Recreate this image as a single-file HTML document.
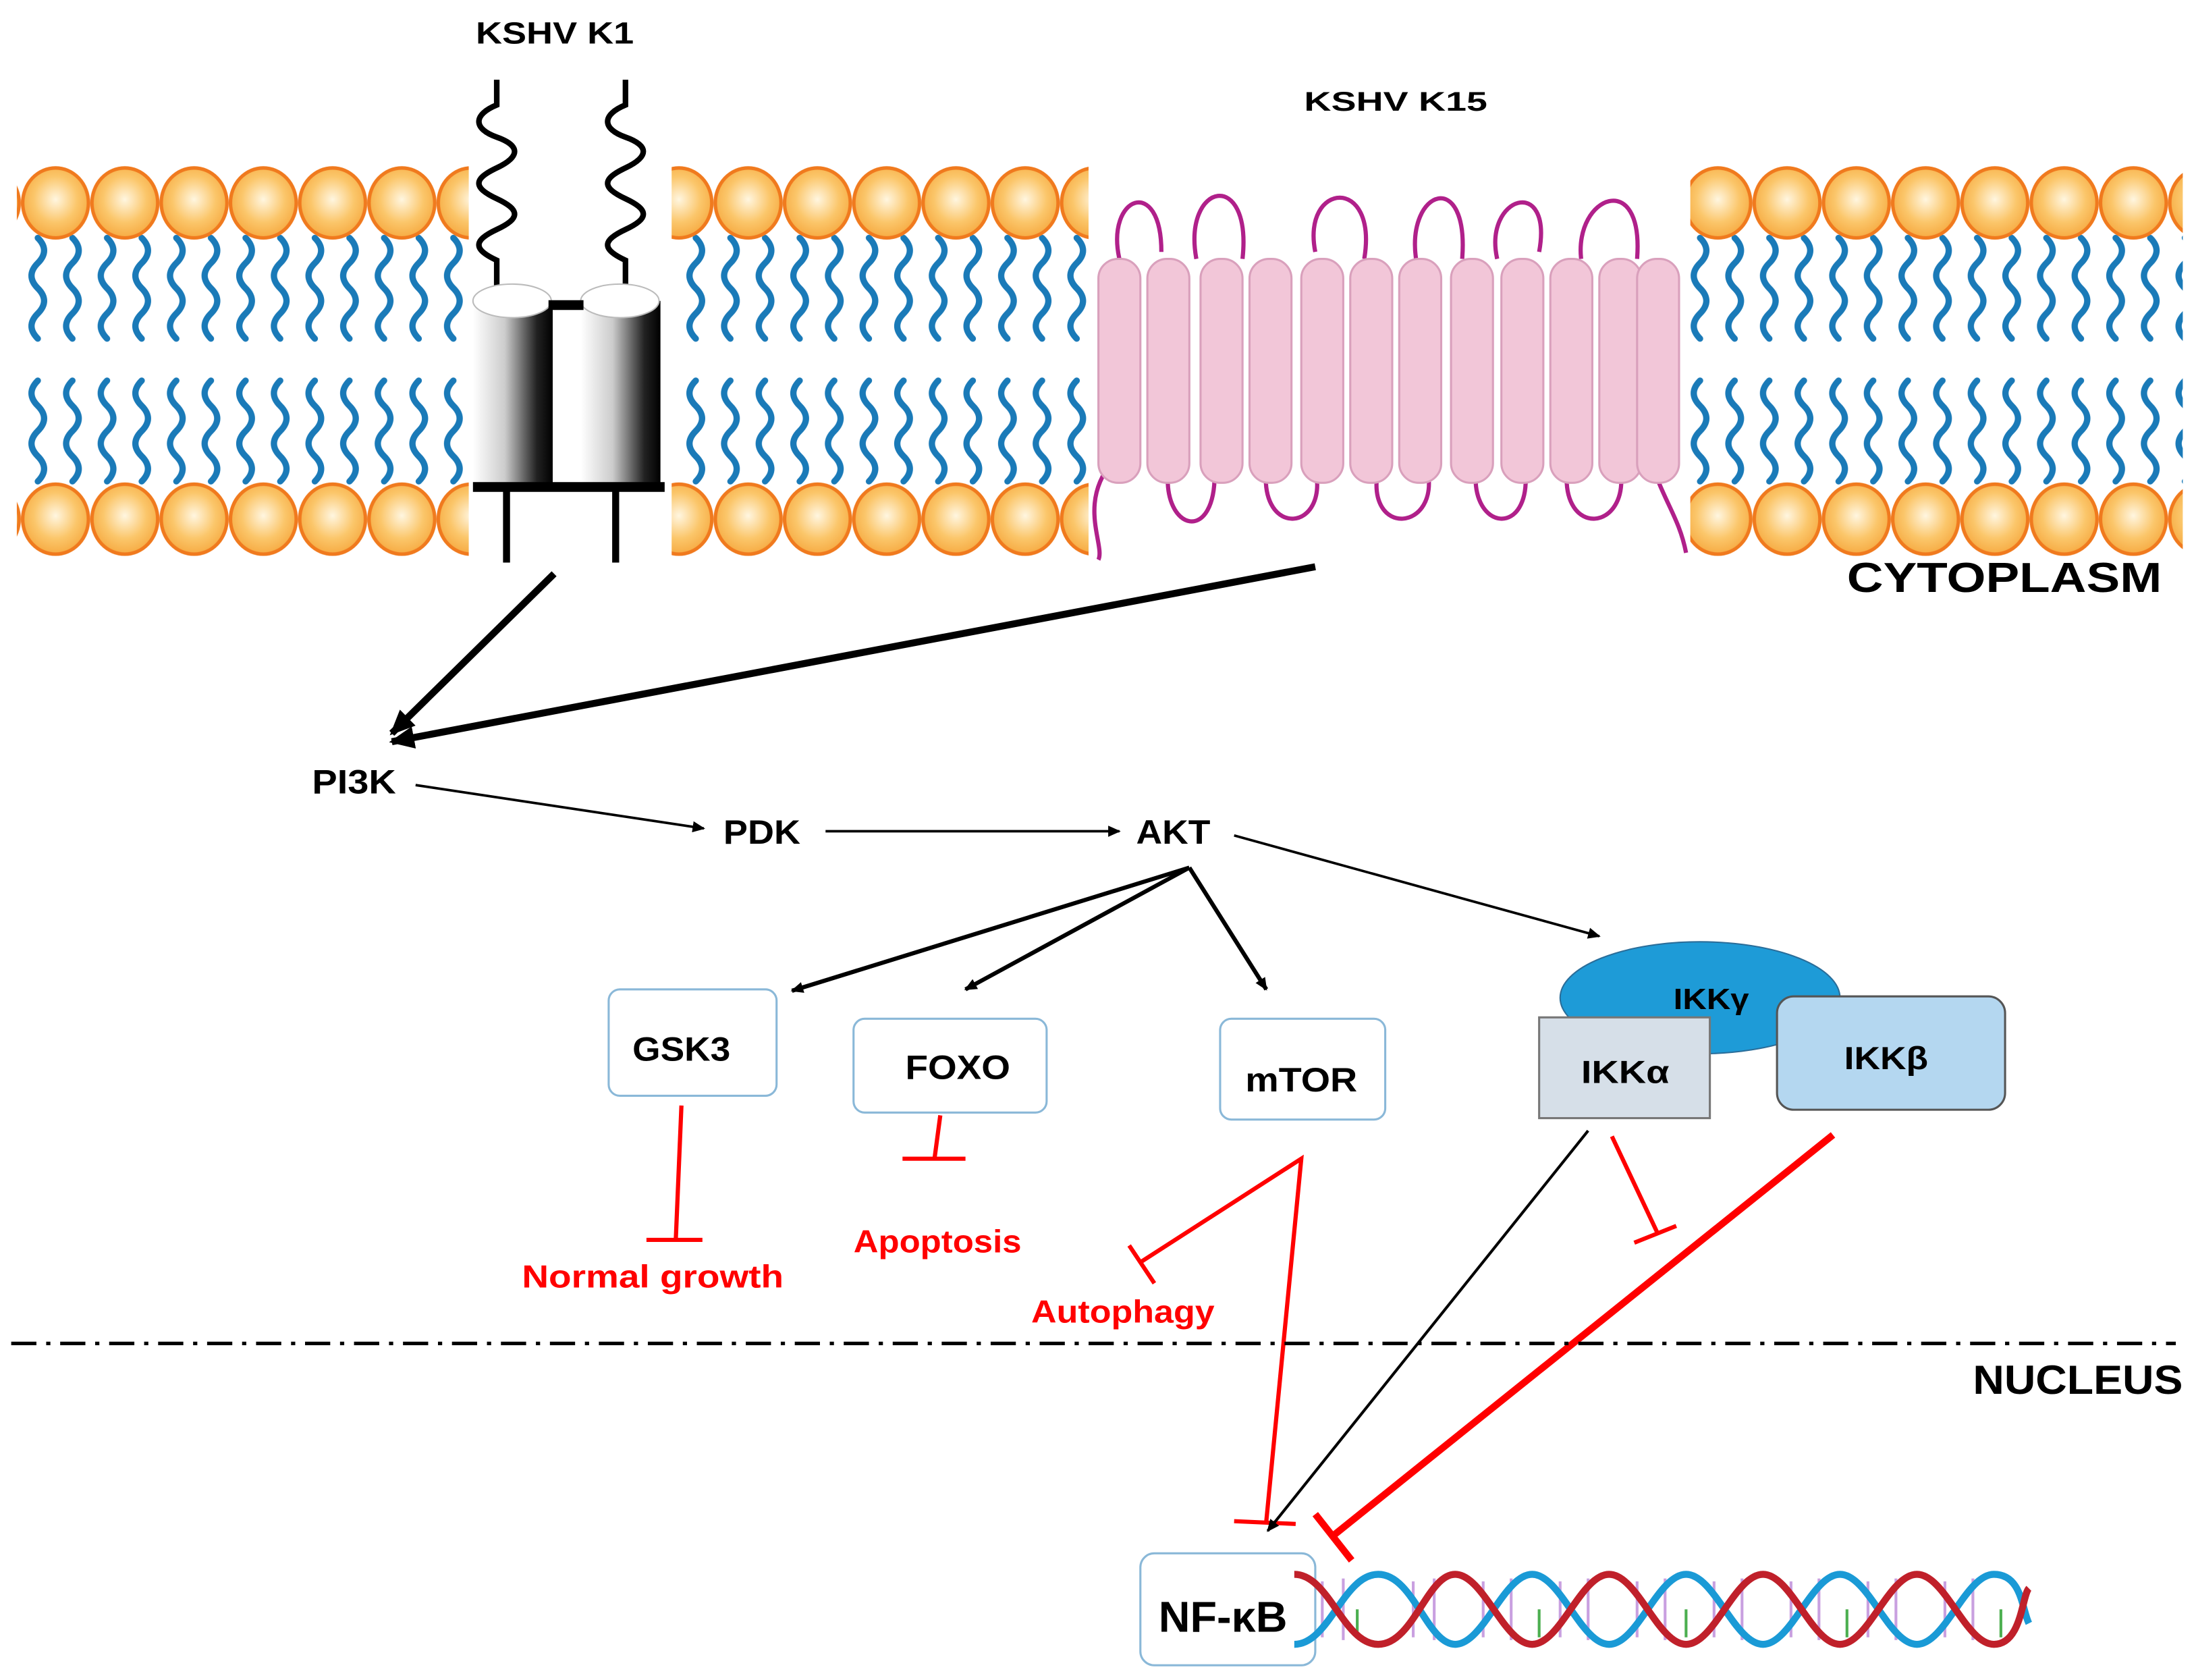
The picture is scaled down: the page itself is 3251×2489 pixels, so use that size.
<!DOCTYPE html>
<html><head><meta charset="utf-8"><style>
html,body{margin:0;padding:0;background:#fff;}
svg{display:block;}
text{font-family:"Liberation Sans",sans-serif;font-weight:bold;}
</style></head><body>
<svg width="3251" height="2489" viewBox="0 0 1568 1200.5" xmlns="http://www.w3.org/2000/svg">
<defs>
<radialGradient id="hg" cx="0.5" cy="0.45" r="0.6"><stop offset="0" stop-color="#fff6e0"/><stop offset="0.55" stop-color="#fbc66a"/><stop offset="1" stop-color="#f5a53a"/></radialGradient>
<pattern id="heads" x="15" y="0" width="49.5" height="400" patternUnits="userSpaceOnUse">
<ellipse cx="24.7" cy="145" rx="23.5" ry="25" fill="url(#hg)" stroke="#f07a1e" stroke-width="2.5"/>
<ellipse cx="24.7" cy="371" rx="23.5" ry="25" fill="url(#hg)" stroke="#f07a1e" stroke-width="2.5"/>
</pattern>
<pattern id="tails" x="15" y="0" width="24.75" height="400" patternUnits="userSpaceOnUse">
<path d="M12,170 C18,176 18,182 12,188 S6,200 12,206 S18,218 12,224 S6,236 12,242" fill="none" stroke="#1a7ab8" stroke-width="4.5" stroke-linecap="round"/>
<path d="M12,272 C6,278 6,284 12,290 S18,302 12,308 S6,320 12,326 S18,338 12,344" fill="none" stroke="#1a7ab8" stroke-width="4.5" stroke-linecap="round"/>
</pattern>
<linearGradient id="cyl" x1="0" x2="1"><stop offset="0" stop-color="#fff"/><stop offset="0.4" stop-color="#ccc"/><stop offset="0.8" stop-color="#222"/><stop offset="1" stop-color="#000"/></linearGradient>
<marker id="ah" markerWidth="10" markerHeight="10" refX="8" refY="5" orient="auto" markerUnits="userSpaceOnUse"><path d="M0,1 L9,5 L0,9 z" fill="#000"/></marker>
<marker id="ahb" markerWidth="20" markerHeight="20" refX="16" refY="10" orient="auto" markerUnits="userSpaceOnUse"><path d="M0,2 L18,10 L0,18 z" fill="#000"/></marker>
</defs>

<g>
<rect x="12" y="115" width="323" height="290" fill="url(#tails)"/>
<rect x="12" y="115" width="323" height="290" fill="url(#heads)"/>
<rect x="480" y="115" width="298" height="290" fill="url(#tails)"/>
<rect x="480" y="115" width="298" height="290" fill="url(#heads)"/>
<rect x="1208" y="115" width="352" height="290" fill="url(#tails)"/>
<rect x="1208" y="115" width="352" height="290" fill="url(#heads)"/>
</g>

<text x="340" y="31" font-size="22" textLength="113" lengthAdjust="spacingAndGlyphs">KSHV K1</text>
<path d="M355,57 V75 C338,82 338,92 355,98 S372,112 355,120 S338,134 355,142 S372,156 355,164 S338,178 355,186 V215" fill="none" stroke="#000" stroke-width="4"/>
<path d="M447,57 V75 C430,82 430,92 447,98 S464,112 447,120 S430,134 447,142 S464,156 447,164 S430,178 447,186 V215" fill="none" stroke="#000" stroke-width="4"/>
<rect x="338" y="215" width="57" height="130" fill="url(#cyl)"/>
<ellipse cx="366" cy="215" rx="28" ry="12" fill="#fff" stroke="#bbb"/>
<rect x="415" y="215" width="57" height="130" fill="url(#cyl)"/>
<ellipse cx="443" cy="215" rx="28" ry="12" fill="#fff" stroke="#bbb"/>
<line x1="392" y1="218" x2="417" y2="218" stroke="#000" stroke-width="7"/>
<line x1="338" y1="348" x2="475" y2="348" stroke="#000" stroke-width="7"/>
<line x1="362" y1="348" x2="362" y2="402" stroke="#000" stroke-width="5"/>
<line x1="440" y1="348" x2="440" y2="402" stroke="#000" stroke-width="5"/>

<text x="932" y="79" font-size="19" textLength="131" lengthAdjust="spacingAndGlyphs">KSHV K15</text>
<rect x="778" y="115" width="430" height="290" fill="#fff"/>
<g fill="none" stroke="#b0208a" stroke-width="3">
<path d="M800,185 C790,140 830,125 830,180"/>
<path d="M855,185 C845,130 895,120 888,185"/>
<path d="M940,180 C930,130 985,125 975,185"/>
<path d="M1012,185 C1005,135 1050,120 1045,185"/>
<path d="M1070,185 C1060,140 1110,125 1100,180"/>
<path d="M1130,185 C1125,140 1175,120 1170,185"/>
<path d="M795,330 C770,360 790,390 785,400"/>
<path d="M835,335 C830,380 870,390 868,335"/>
<path d="M905,335 C900,385 950,380 940,335"/>
<path d="M985,335 C975,385 1030,380 1020,335"/>
<path d="M1055,335 C1050,380 1095,385 1090,335"/>
<path d="M1120,335 C1115,385 1165,380 1158,335"/>
<path d="M1180,330 C1190,360 1200,370 1205,395"/>
</g>
<g fill="#f2c6d8" stroke="#d9a0bc" stroke-width="1.5">
<rect x="785" y="185" width="30" height="160" rx="14"/>
<rect x="820" y="185" width="30" height="160" rx="14"/>
<rect x="858" y="185" width="30" height="160" rx="14"/>
<rect x="893" y="185" width="30" height="160" rx="14"/>
<rect x="930" y="185" width="30" height="160" rx="14"/>
<rect x="965" y="185" width="30" height="160" rx="14"/>
<rect x="1000" y="185" width="30" height="160" rx="14"/>
<rect x="1037" y="185" width="30" height="160" rx="14"/>
<rect x="1073" y="185" width="30" height="160" rx="14"/>
<rect x="1108" y="185" width="30" height="160" rx="14"/>
<rect x="1143" y="185" width="30" height="160" rx="14"/>
<rect x="1170" y="185" width="30" height="160" rx="14"/>
</g>

<text x="1320" y="423" font-size="30" textLength="225" lengthAdjust="spacingAndGlyphs">CYTOPLASM</text>

<line x1="396" y1="410" x2="280" y2="524" stroke="#000" stroke-width="5" marker-end="url(#ahb)"/>
<line x1="940" y1="405" x2="280" y2="530" stroke="#000" stroke-width="5" marker-end="url(#ahb)"/>

<g font-size="24">
<text x="223" y="567" textLength="60" lengthAdjust="spacingAndGlyphs">PI3K</text>
<text x="517" y="603" textLength="55" lengthAdjust="spacingAndGlyphs">PDK</text>
<text x="812" y="603" textLength="53" lengthAdjust="spacingAndGlyphs">AKT</text>
</g>
<g stroke="#000" stroke-width="1.8" fill="none" marker-end="url(#ah)">
<line x1="297" y1="561" x2="503" y2="592"/>
<line x1="590" y1="594" x2="800" y2="594"/>
<line x1="882" y1="597" x2="1143" y2="669"/>
</g>
<g stroke="#000" stroke-width="3" fill="none" marker-end="url(#ah)">
<line x1="850" y1="620" x2="566" y2="708"/>
<line x1="850" y1="620" x2="690" y2="707"/>
<line x1="850" y1="620" x2="905" y2="707"/>
</g>

<g fill="#fff" stroke="#8ab8d8" stroke-width="1.5">
<rect x="435" y="707" width="120" height="76" rx="8"/>
<rect x="610" y="728" width="138" height="67" rx="8"/>
<rect x="872" y="728" width="118" height="72" rx="8"/>
<rect x="815" y="1110" width="125" height="80" rx="10"/>
</g>
<g font-size="24">
<text x="452" y="758" textLength="70" lengthAdjust="spacingAndGlyphs">GSK3</text>
<text x="647" y="771" textLength="75" lengthAdjust="spacingAndGlyphs">FOXO</text>
<text x="890" y="780" textLength="80" lengthAdjust="spacingAndGlyphs">mTOR</text>
<text x="828" y="1166" font-size="31" textLength="92" lengthAdjust="spacingAndGlyphs">NF-κB</text>
</g>

<ellipse cx="1215" cy="713" rx="100" ry="40" fill="#1e9bd7" stroke="#2a6d99" stroke-width="1"/>
<text x="1196" y="721" font-size="21" textLength="54" lengthAdjust="spacingAndGlyphs">IKKγ</text>
<rect x="1100" y="727" width="122" height="72" fill="#d6dfe8" stroke="#777" stroke-width="1.5"/>
<text x="1130" y="774" font-size="23" textLength="63" lengthAdjust="spacingAndGlyphs">IKKα</text>
<rect x="1270" y="712" width="163" height="81" rx="12" fill="#b4d7f0" stroke="#555" stroke-width="1.5"/>
<text x="1318" y="764" font-size="23" textLength="60" lengthAdjust="spacingAndGlyphs">IKKβ</text>

<g stroke="#f00" fill="none" stroke-width="3">
<line x1="487" y1="790" x2="483" y2="885"/>
<line x1="462" y1="886" x2="502" y2="886"/>
<line x1="672" y1="797" x2="668" y2="827"/>
<line x1="645" y1="828" x2="690" y2="828"/>
<polyline points="815,902 930,828 905,1087"/>
<line x1="807" y1="890" x2="825" y2="917"/>
<line x1="882" y1="1087" x2="926" y2="1089"/>
<line x1="1152" y1="812" x2="1185" y2="882"/>
<line x1="1168" y1="888" x2="1198" y2="876"/>
</g>
<line x1="1310" y1="811" x2="952" y2="1098" stroke="#f00" stroke-width="5"/>
<line x1="940" y1="1082" x2="966" y2="1115" stroke="#f00" stroke-width="5"/>
<line x1="1135" y1="808" x2="906" y2="1094" stroke="#000" stroke-width="2" marker-end="url(#ah)"/>

<g fill="#f00" font-size="23">
<text x="373" y="920" textLength="187" lengthAdjust="spacingAndGlyphs">Normal growth</text>
<text x="610" y="895" textLength="120" lengthAdjust="spacingAndGlyphs">Apoptosis</text>
<text x="737" y="945" textLength="131" lengthAdjust="spacingAndGlyphs">Autophagy</text>
</g>

<line x1="8" y1="960" x2="1555" y2="960" stroke="#000" stroke-width="2.5" stroke-dasharray="18,7,3,7"/>
<text x="1410" y="996" font-size="29" textLength="150" lengthAdjust="spacingAndGlyphs">NUCLEUS</text>

<g stroke-width="2">
<g stroke="#c9a0e0">
<line x1="945" y1="1130" x2="945" y2="1170"/><line x1="960" y1="1128" x2="960" y2="1172"/>
<line x1="1010" y1="1130" x2="1010" y2="1170"/><line x1="1025" y1="1128" x2="1025" y2="1172"/>
<line x1="1060" y1="1130" x2="1060" y2="1170"/><line x1="1080" y1="1128" x2="1080" y2="1172"/>
<line x1="1115" y1="1130" x2="1115" y2="1170"/><line x1="1135" y1="1128" x2="1135" y2="1172"/>
<line x1="1170" y1="1130" x2="1170" y2="1170"/><line x1="1190" y1="1128" x2="1190" y2="1172"/>
<line x1="1225" y1="1130" x2="1225" y2="1170"/><line x1="1245" y1="1128" x2="1245" y2="1172"/>
<line x1="1280" y1="1130" x2="1280" y2="1170"/><line x1="1300" y1="1128" x2="1300" y2="1172"/>
<line x1="1335" y1="1130" x2="1335" y2="1170"/><line x1="1355" y1="1128" x2="1355" y2="1172"/>
<line x1="1390" y1="1130" x2="1390" y2="1170"/><line x1="1410" y1="1128" x2="1410" y2="1172"/>
</g>
<g stroke="#4caf50"><line x1="970" y1="1150" x2="970" y2="1170"/><line x1="1100" y1="1150" x2="1100" y2="1170"/><line x1="1205" y1="1150" x2="1205" y2="1170"/><line x1="1320" y1="1150" x2="1320" y2="1170"/><line x1="1430" y1="1150" x2="1430" y2="1170"/></g>
</g>
<path d="M925,1175 C950,1175 960,1125 985,1125 S1020,1175 1040,1175 S1075,1125 1095,1125 S1130,1175 1150,1175 S1185,1125 1205,1125 S1240,1175 1260,1175 S1295,1125 1315,1125 S1350,1175 1370,1175 S1405,1125 1425,1125 S1445,1150 1450,1160" fill="none" stroke="#1a9ad6" stroke-width="5"/>
<path d="M925,1125 C950,1125 960,1175 985,1175 S1020,1125 1040,1125 S1075,1175 1095,1175 S1130,1125 1150,1125 S1185,1175 1205,1175 S1240,1125 1260,1125 S1295,1175 1315,1175 S1350,1125 1370,1125 S1405,1175 1425,1175 S1445,1140 1450,1135" fill="none" stroke="#c0202a" stroke-width="5"/>
</svg>
</body></html>
